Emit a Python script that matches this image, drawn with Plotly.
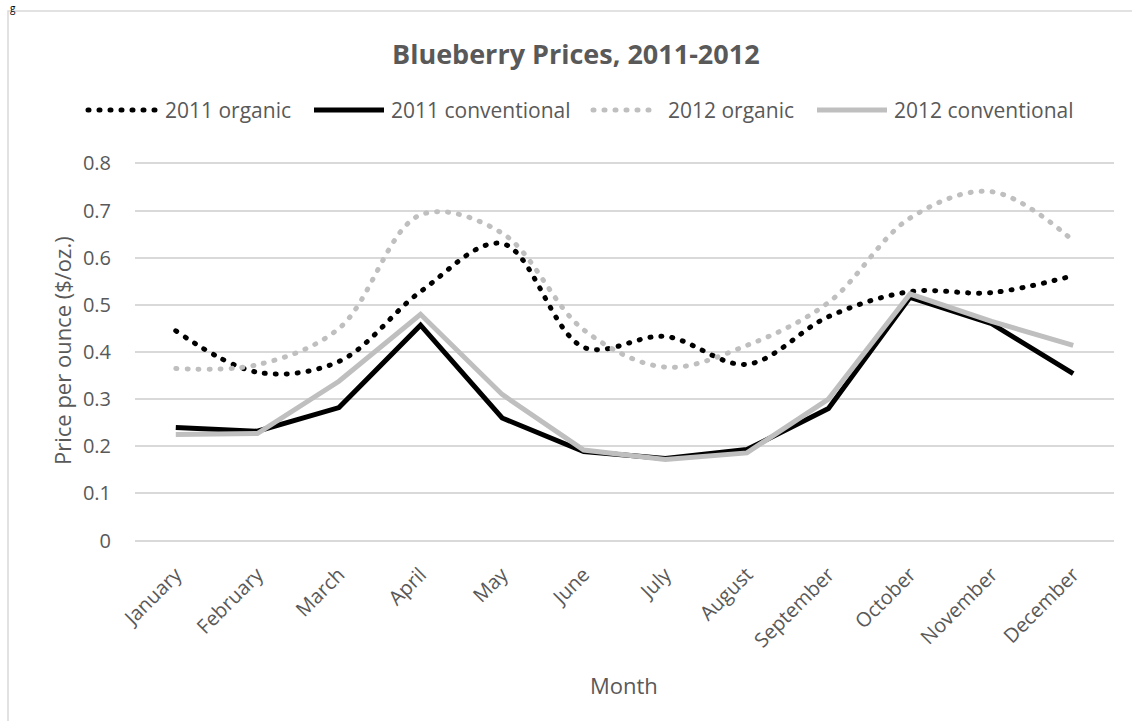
import plotly.graph_objects as go

# Monthly blueberry prices in $ per ounce
months = ["January", "February", "March", "April", "May", "June",
          "July", "August", "September", "October", "November", "December"]
organic_2011 = [0.445, 0.357, 0.380, 0.528, 0.630, 0.410, 0.433, 0.374, 0.475, 0.528, 0.526, 0.562]
conventional_2011 = [0.240, 0.232, 0.282, 0.457, 0.260, 0.189, 0.174, 0.193, 0.280, 0.516, 0.460, 0.354]
organic_2012 = [0.365, 0.373, 0.450, 0.691, 0.652, 0.447, 0.368, 0.414, 0.505, 0.684, 0.740, 0.636]
conventional_2012 = [0.225, 0.227, 0.338, 0.480, 0.310, 0.192, 0.172, 0.186, 0.300, 0.523, 0.465, 0.414]

y_ticks = [0, 0.1, 0.2, 0.3, 0.4, 0.5, 0.6, 0.7, 0.8]
y_tick_text = ["0", "0.1", "0.2", "0.3", "0.4", "0.5", "0.6", "0.7", "0.8"]

W, H = 1132, 721
ML, MR, MT, MB = 135, 18, 162, 179
PW, PH = W - ML - MR, H - MT - MB

TEXT = "#595959"
GRID = "#d9d9d9"
BLACK = "#000000"
GREY = "#bfbfbf"
FONT = "Open Sans"
DOTS = "1px,10px"
LW = 5


def px_x(px):
    return (px - ML) / PW


def px_y(py):
    return (H - MB - py) / PH


series = [
    ("2011 organic", organic_2011, BLACK, DOTS, "spline"),
    ("2011 conventional", conventional_2011, BLACK, "solid", "linear"),
    ("2012 organic", organic_2012, GREY, DOTS, "spline"),
    ("2012 conventional", conventional_2012, GREY, "solid", "linear"),
]

fig = go.Figure()
for name, vals, color, dash, shape in series:
    fig.add_trace(go.Scatter(
        x=months, y=vals, name=name, mode="lines",
        line=dict(color=color, width=LW, dash=dash, shape=shape, smoothing=1),
        showlegend=False,
    ))

# Legend drawn as sample strokes plus labels
legend_y = 110
legend_items = [(88, 155, 163), (314, 384, 389), (593, 658, 666), (817, 887, 892)]
shapes = []
annotations = []
for (x0, x1, tx), (name, _, color, dash, _) in zip(legend_items, series):
    shapes.append(dict(type="line", xref="paper", yref="paper",
                       x0=px_x(x0), x1=px_x(x1), y0=px_y(legend_y), y1=px_y(legend_y),
                       line=dict(color=color, width=LW, dash=dash)))
    annotations.append(dict(text=name, xref="paper", yref="paper",
                            x=px_x(tx), y=px_y(legend_y), xanchor="left", yanchor="middle",
                            showarrow=False, font=dict(family=FONT, size=21, color=TEXT)))

# Chart border
shapes.append(dict(type="rect", xref="paper", yref="paper",
                   x0=px_x(8), x1=px_x(1160), y0=px_y(11), y1=px_y(760),
                   line=dict(color=GRID, width=1.5), fillcolor="rgba(0,0,0,0)", layer="below"))

annotations += [
    dict(text="<b>Blueberry Prices, 2011-2012</b>", xref="paper", yref="paper",
         x=px_x(576), y=px_y(53), xanchor="center", yanchor="middle", showarrow=False,
         font=dict(family=FONT, size=27, color=TEXT)),
    dict(text="Price per ounce ($/oz.)", xref="paper", yref="paper",
         x=px_x(62), y=px_y(351), xanchor="center", yanchor="middle", textangle=-90,
         showarrow=False, font=dict(family=FONT, size=22, color=TEXT)),
    dict(text="Month", xref="paper", yref="paper",
         x=px_x(624), y=px_y(685), xanchor="center", yanchor="middle", showarrow=False,
         font=dict(family=FONT, size=22, color=TEXT)),
    dict(text="g", xref="paper", yref="paper",
         x=px_x(9), y=px_y(0), xanchor="left", yanchor="top", showarrow=False,
         borderpad=0, font=dict(family=FONT, size=10, color="#000000")),
]

fig.update_layout(
    width=W, height=H,
    margin=dict(l=ML, r=MR, t=MT, b=MB, pad=0),
    paper_bgcolor="white", plot_bgcolor="white",
    font=dict(family=FONT, color=TEXT, size=20),
    shapes=shapes, annotations=annotations,
    showlegend=False,
)
fig.update_xaxes(
    type="category", range=[-0.5, 11.5], showgrid=False, zeroline=False,
    showline=False, ticks="", tickangle=-45, ticklabelstandoff=16,
    tickfont=dict(family=FONT, size=20, color=TEXT),
)
fig.update_yaxes(
    range=[-0.003, 0.803], tickvals=y_ticks, ticktext=y_tick_text,
    showgrid=True, gridcolor=GRID, gridwidth=1.5, zeroline=False, showline=False,
    ticks="", ticklabelstandoff=23,
    tickfont=dict(family=FONT, size=20, color=TEXT),
)

# Round caps turn the short dashes into round dots
post = """
var gd = document.getElementById('{plot_id}');
function roundDots(){
  gd.querySelectorAll('path').forEach(function(p){
    var d = p.style.strokeDasharray || '';
    if (d.indexOf(',') >= 0) { p.style.strokeLinecap = 'round'; }
  });
}
roundDots();
gd.on('plotly_afterplot', roundDots);
"""
fig.write_html("out.html", post_script=post)
